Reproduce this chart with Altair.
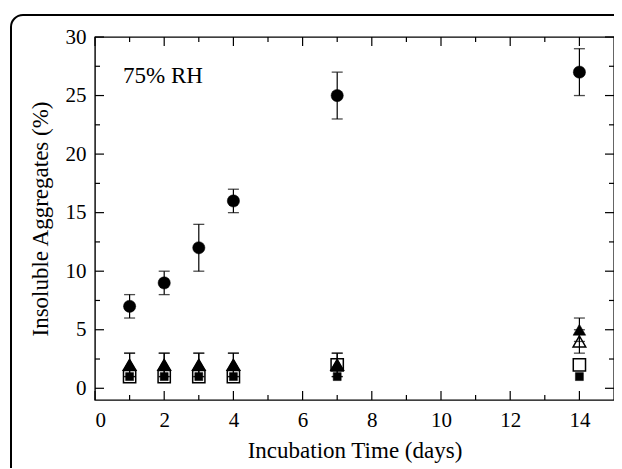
import altair as alt
import pandas as pd

# ---- data ----
days = [1, 2, 3, 4, 7, 14]
circle_mean = [7, 9, 12, 16, 25, 27]
circle_err = [1, 1, 2, 1, 2, 2]
tri_filled_mean = [2, 2, 2, 2, 2, 5]
tri_filled_err = [1, 1, 1, 1, 1, 1]
tri_open_mean = [2, 2, 2, 2, 2, 4]
tri_open_err = [1, 1, 1, 1, 1, 1]
sq_open_mean = [1, 1, 1, 1, 2, 2]
sq_filled_mean = [1, 1, 1, 1, 1, 1]

x_major = [0, 2, 4, 6, 8, 10, 12, 14]
x_minor = [1, 3, 5, 7, 9, 11, 13]
y_major = [0, 5, 10, 15, 20, 25, 30]
y_minor = [2.5, 7.5, 12.5, 17.5, 22.5, 27.5]

W, H = 519, 363
FONT = "Liberation Serif"
LABEL_FONT = "'Liberation Serif', 'Times New Roman', serif"


def series(mean, err=None):
    d = pd.DataFrame({"day": days, "mean": mean})
    if err is not None:
        d["lo"] = [m - e for m, e in zip(mean, err)]
        d["hi"] = [m + e for m, e in zip(mean, err)]
    return d


circles = series(circle_mean, circle_err)
tri_f = series(tri_filled_mean, tri_filled_err)
tri_o = series(tri_open_mean, tri_open_err)
sq_o = series(sq_open_mean)
sq_f = series(sq_filled_mean)

xs = alt.Scale(domain=[0, 15], nice=False, zero=False)
ys = alt.Scale(domain=[-1, 30], nice=False, zero=False)

axis_style = dict(
    domain=False, ticks=False, tickSize=0, grid=False,
    labelFont=LABEL_FONT, labelFontSize=21, labelColor="black", labelPadding=9,
    titleFont=FONT, titleFontSize=23, titleFontWeight="normal", titleColor="black",
)
x_axis = alt.Axis(values=x_major, title="Incubation Time (days)", titlePadding=9, **axis_style)
y_axis = alt.Axis(values=y_major, title="Insoluble Aggregates (%)", titlePadding=13, **axis_style)


def X(field="day"):
    return alt.X(f"{field}:Q", scale=xs, axis=x_axis)


def Y(field="mean"):
    return alt.Y(f"{field}:Q", scale=ys, axis=y_axis)


def errorbars(d):
    line = alt.Chart(d).mark_rule(color="black", strokeWidth=1.2).encode(
        x=X(), y=Y("lo"), y2="hi")
    lo = alt.Chart(d).mark_tick(color="black", orient="horizontal", size=11, thickness=1.3).encode(
        x=X(), y=Y("lo"))
    hi = alt.Chart(d).mark_tick(color="black", orient="horizontal", size=11, thickness=1.3).encode(
        x=X(), y=Y("hi"))
    return [line, lo, hi]


def points(d, shape, size, filled):
    if filled:
        m = alt.Chart(d).mark_point(shape=shape, size=size, filled=True, fill="black",
                                    stroke="black", strokeWidth=0.5, opacity=1)
    else:
        m = alt.Chart(d).mark_point(shape=shape, size=size, filled=False, fill=None,
                                    stroke="black", strokeWidth=1.5, opacity=1)
    return m.encode(x=X(), y=Y())


# tick rules (inward ticks on all four sides)
def xticks(vals, length):
    d = pd.DataFrame({"v": vals})
    bot = alt.Chart(d).mark_rule(color="black", strokeWidth=1.2).encode(
        x=X("v"), y=alt.value(H), y2=alt.value(H - length))
    top = alt.Chart(d).mark_rule(color="black", strokeWidth=1.2).encode(
        x=X("v"), y=alt.value(0), y2=alt.value(length))
    return [bot, top]


def yticks(vals, length):
    d = pd.DataFrame({"v": vals})
    left = alt.Chart(d).mark_rule(color="black", strokeWidth=1.2).encode(
        y=Y("v"), x=alt.value(0), x2=alt.value(length))
    right = alt.Chart(d).mark_rule(color="black", strokeWidth=1.2).encode(
        y=Y("v"), x=alt.value(W), x2=alt.value(W - length))
    return [left, right]


frame = alt.Chart(pd.DataFrame({"k": [0]})).mark_rect(
    fill=None, stroke="black", strokeWidth=2, cornerRadius=12).encode(
    x=alt.value(-84), y=alt.value(-22), x2=alt.value(W + 60), y2=alt.value(H + 120))

label = alt.Chart(pd.DataFrame({"t": ["75% RH"]})).mark_text(
    font=FONT, fontSize=23, align="left", baseline="middle", color="black").encode(
    text="t:N", x=alt.value(28), y=alt.value(39))

layers = [frame]
layers += xticks(x_major, 9) + xticks(x_minor, 5)
layers += yticks(y_major, 9) + yticks(y_minor, 5)
layers += errorbars(circles) + errorbars(tri_f) + errorbars(tri_o)
layers += [
    points(sq_o, "square", 150, False),
    points(sq_f, "square", 64, True),
    points(tri_o, "triangle-up", 160, False),
    points(tri_f, "triangle-up", 160, True),
    points(circles, "circle", 150, True),
    label,
]

chart = alt.layer(*layers).properties(
    width=W, height=H,
    autosize=alt.AutoSizeParams(type="none"),
    padding={"left": 87, "top": 29, "right": 0, "bottom": 68},
).configure(
    font=FONT
).configure_view(
    stroke="black", strokeWidth=1.4
)

chart.save("out.html", embed_options={"renderer": "svg", "actions": False})
